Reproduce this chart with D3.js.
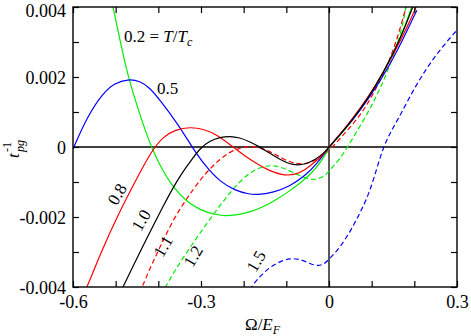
<!DOCTYPE html>
<html>
<head>
<meta charset="utf-8">
<script src="https://cdn.jsdelivr.net/npm/d3@7"></script>
<style>
  body { margin: 0; background: #fff; }
  svg { display: block; }
</style>
</head>
<body>
<div id="chart"></div>
<script>
// ---- data (omega / E_F , inverse lifetime) ----
const t02X = [-0.516, -0.506, -0.49, -0.471, -0.443, -0.417, -0.391, -0.366, -0.333, -0.302, -0.27, -0.244, -0.215, -0.185, -0.152, -0.122, -0.095, -0.068, -0.04, -0.018, 0, 0.025, 0.049, 0.091, 0.131, 0.166, 0.195, 0.209];
const t02Y = [0.00454, 0.004, 0.00306, 0.002, 0.00091, 0, -0.00066, -0.00114, -0.00157, -0.0018, -0.00193, -0.00197, -0.00194, -0.00186, -0.0017, -0.00149, -0.00128, -0.00104, -0.00074, -0.00042, 0, 0.00032, 0.00066, 0.00137, 0.0022, 0.00306, 0.004, 0.00463];

const t05X = [-0.6, -0.567, -0.53, -0.502, -0.471, -0.443, -0.42, -0.396, -0.356, -0.321, -0.291, -0.255, -0.22, -0.19, -0.169, -0.13, -0.091, -0.056, -0.026, 0, 0.025, 0.054, 0.096, 0.136, 0.173, 0.206];
const t05Y = [-0.00006, 0.00086, 0.00154, 0.00183, 0.00194, 0.00189, 0.00169, 0.00134, 0.00069, 0, -0.00053, -0.001, -0.00124, -0.00134, -0.00137, -0.0013, -0.00112, -0.00082, -0.00045, 0, 0.00036, 0.00074, 0.00143, 0.0022, 0.00306, 0.00391];

const t08X = [-0.575, -0.567, -0.534, -0.497, -0.455, -0.415, -0.389, -0.36, -0.326, -0.295, -0.2625, -0.225, -0.195, -0.169, -0.14, -0.108, -0.08, -0.055, -0.03, -0.012, 0, 0.025, 0.049, 0.091, 0.131, 0.166, 0.202, 0.21];
const t08Y = [-0.0042, -0.004, -0.003, -0.002, -0.001, -0.00009, 0.00029, 0.0005, 0.00057, 0.00052, 0.00035, 0, -0.00028, -0.00048, -0.00068, -0.00081, -0.0008, -0.00065, -0.0004, -0.0002, 0, 0.00035, 0.00071, 0.0014, 0.0022, 0.003, 0.00391, 0.0042];

const t10X = [-0.49, -0.483, -0.46, -0.436, -0.41, -0.389, -0.366, -0.345, -0.326, -0.302, -0.28, -0.255, -0.232, -0.21, -0.185, -0.162, -0.14, -0.115, -0.084, -0.055, -0.03, -0.012, 0, 0.025, 0.049, 0.089, 0.127, 0.166, 0.197, 0.21];
const t10Y = [-0.0042, -0.004, -0.00342, -0.00283, -0.0022, -0.0017, -0.00117, -0.00075, -0.00043, -0.00003, 0.00017, 0.00028, 0.00031, 0.00027, 0.00015, 0, -0.00017, -0.00036, -0.00053, -0.0005, -0.00034, -0.00018, 0, 0.00034, 0.00069, 0.00134, 0.00211, 0.00306, 0.004, 0.0045];

const t11X = [-0.443, -0.438, -0.4195, -0.396, -0.366, -0.333, -0.302, -0.279, -0.255, -0.232, -0.208, -0.185, -0.155, -0.13, -0.108, -0.085, -0.061, -0.04, -0.02, 0.002, 0.03, 0.061, 0.085, 0.108, 0.13, 0.148, 0.165, 0.185];
const t11Y = [-0.00417, -0.004, -0.00346, -0.00286, -0.00209, -0.00146, -0.00094, -0.00062, -0.00034, -0.00014, -0.00002, 0.00003, -0.00004, -0.00018, -0.00034, -0.00046, -0.0005, -0.00043, -0.00029, -0.00009, 0.0003, 0.00072, 0.00112, 0.00162, 0.00215, 0.00268, 0.0033, 0.0042];

const t12X = [-0.391, -0.384, -0.349, -0.314, -0.279, -0.244, -0.209, -0.18, -0.15, -0.125, -0.1, -0.068, -0.045, -0.025, -0.008, 0.008, 0.026, 0.042, 0.065, 0.089, 0.112, 0.131, 0.15, 0.168, 0.184];
const t12Y = [-0.00423, -0.004, -0.00329, -0.00266, -0.00206, -0.00148, -0.00098, -0.00068, -0.00053, -0.00053, -0.00063, -0.00083, -0.00093, -0.00092, -0.00081, -0.00058, -0.00033, -0.00003, 0.00044, 0.00093, 0.00147, 0.00198, 0.00258, 0.00322, 0.0042];

const t15X = [-0.192, -0.185, -0.16, -0.138, -0.115, -0.091, -0.068, -0.045, -0.028, -0.012, 0.002, 0.025, 0.049, 0.07, 0.089, 0.105, 0.124, 0.145, 0.166, 0.206, 0.253, 0.3];
const t15Y = [-0.0043, -0.00403, -0.00367, -0.00343, -0.00327, -0.00318, -0.0032, -0.00333, -0.0034, -0.00336, -0.00318, -0.00288, -0.00243, -0.00195, -0.00147, -0.00092, -0.0001, 0.00045, 0.00088, 0.00183, 0.00269, 0.00334];

const xMajor = [-0.6, -0.3, 0, 0.3];
const xMajorLabels = ["-0.6", "-0.3", "0", "0.3"];
const xMinor = [-0.5, -0.4, -0.2, -0.1, 0.1, 0.2];
const yMajor = [-0.004, -0.002, 0, 0.002, 0.004];
const yMajorLabels = ["-0.004", "-0.002", "0", "0.002", "0.004"];
const yMinor = [-0.003, -0.001, 0.001, 0.003];

const width = 471, height = 336,
    margin = {left: 73, right: 14, top: 7, bottom: 49};
const w = width - margin.left - margin.right;
const h = height - margin.top - margin.bottom;
const serif = "'Liberation Serif'";
const fs = 17;

const svg = d3.select("#chart").append("svg")
    .attr("width", width)
    .attr("height", height);

const x = d3.scaleLinear().domain([-0.6, 0.3]).range([margin.left, margin.left + w]);
const y = d3.scaleLinear().domain([-0.004, 0.004]).range([margin.top + h, margin.top]);

svg.append("clipPath").attr("id", "clip")
    .append("rect")
    .attr("x", margin.left).attr("y", margin.top)
    .attr("width", w).attr("height", h);

// zero lines
svg.append("line")
    .attr("x1", x(-0.6)).attr("x2", x(0.3))
    .attr("y1", y(0)).attr("y2", y(0))
    .attr("stroke", "#000").attr("stroke-width", 1.3);
svg.append("line")
    .attr("x1", x(0)).attr("x2", x(0))
    .attr("y1", y(-0.004)).attr("y2", y(0.004))
    .attr("stroke", "#000").attr("stroke-width", 1.3);

// curves
const series = [
    {xs: t15X, ys: t15Y, color: "#0000ff", dash: "5,3"},
    {xs: t12X, ys: t12Y, color: "#00ee00", dash: "5,3"},
    {xs: t11X, ys: t11Y, color: "#ff0000", dash: "5,3"},
    {xs: t02X, ys: t02Y, color: "#00ee00", dash: null},
    {xs: t05X, ys: t05Y, color: "#0000ff", dash: null},
    {xs: t08X, ys: t08Y, color: "#ff0000", dash: null},
    {xs: t10X, ys: t10Y, color: "#000000", dash: null}
];

const line = d3.line()
    .x(d => x(d[0]))
    .y(d => y(d[1]))
    .curve(d3.curveBasis);

const plot = svg.append("g").attr("clip-path", "url(#clip)");
series.forEach(s => {
    plot.append("path")
        .datum(s.xs.map((v, i) => [v, s.ys[i]]))
        .attr("fill", "none")
        .attr("stroke", s.color)
        .attr("stroke-width", 1.2)
        .attr("stroke-dasharray", s.dash)
        .attr("d", line);
});

// axes, ticks pointing inward
const xAll = xMajor.concat(xMinor);
const yAll = yMajor.concat(yMinor);
const xLab = d => { const i = xMajor.indexOf(d); return i < 0 ? "" : xMajorLabels[i]; };
const yLab = d => { const i = yMajor.indexOf(d); return i < 0 ? "" : yMajorLabels[i]; };

const gx = svg.append("g").attr("transform", "translate(0," + (margin.top + h) + ")")
    .call(d3.axisBottom(x).tickValues(xAll).tickSize(-6).tickPadding(8).tickFormat(xLab));
const gxt = svg.append("g").attr("transform", "translate(0," + margin.top + ")")
    .call(d3.axisTop(x).tickValues(xAll).tickSize(-6).tickFormat(""));
const gy = svg.append("g").attr("transform", "translate(" + margin.left + ",0)")
    .call(d3.axisLeft(y).tickValues(yAll).tickSize(-6).tickPadding(7).tickFormat(yLab));
const gyr = svg.append("g").attr("transform", "translate(" + (margin.left + w) + ",0)")
    .call(d3.axisRight(y).tickValues(yAll).tickSize(-6).tickFormat(""));

[gx, gxt, gy, gyr].forEach(g => {
    g.attr("font-family", null).attr("font-size", null);
    g.select(".domain").remove();
    g.selectAll(".tick line").attr("stroke", "#000").attr("stroke-width", 1.2);
    g.selectAll("text").style("font-size", "18px").style("font-family", serif).attr("fill", "#000");
});
// top label sits a little lower so it stays inside the picture
gy.selectAll("text").attr("dy", d => d === 0.004 ? "0.5em" : "0.36em");

svg.append("rect")
    .attr("x", margin.left).attr("y", margin.top)
    .attr("width", w).attr("height", h)
    .attr("fill", "none").attr("stroke", "#000").attr("stroke-width", 1.4);

// helper for plain labels
function label(parent) {
    return parent.append("text").style("font-family", serif).style("font-size", fs + "px").attr("fill", "#000");
}

// curve labels
const t1 = label(svg).attr("x", 124).attr("y", 42);
t1.append("tspan").text("0.2 = ");
t1.append("tspan").style("font-style", "italic").text("T");
t1.append("tspan").text("/");
t1.append("tspan").style("font-style", "italic").text("T");
t1.append("tspan").style("font-style", "italic").style("font-size", "12px").attr("dy", 4).text("c");

label(svg).attr("x", 157).attr("y", 94).text("0.5");

const rotLabels = [
    {t: "0.8", cx: 117, cy: 194},
    {t: "1.0", cx: 141, cy: 220},
    {t: "1.1", cx: 163, cy: 246},
    {t: "1.2", cx: 193, cy: 256},
    {t: "1.5", cx: 256, cy: 261}
];
rotLabels.forEach(l => {
    label(svg)
        .attr("transform", "translate(" + l.cx + "," + l.cy + ") rotate(-60)")
        .attr("text-anchor", "middle")
        .attr("dy", "0.35em")
        .text(l.t);
});

// axis titles
const xt = label(svg).attr("x", 245).attr("y", 330);
xt.append("tspan").text("\u03A9/");
xt.append("tspan").style("font-style", "italic").text("E");
xt.append("tspan").style("font-style", "italic").style("font-size", "12px").attr("dy", 4).text("F");

const yt = svg.append("g").attr("transform", "translate(19,148) rotate(-90)");
label(yt).attr("x", -10).attr("y", 0).style("font-style", "italic").text("t");
label(yt).attr("x", -4).attr("y", 5).style("font-size", "12px").style("font-style", "italic").text("pg");
label(yt).attr("x", -4).attr("y", -8).style("font-size", "12px").text("-1");
</script>
</body>
</html>
